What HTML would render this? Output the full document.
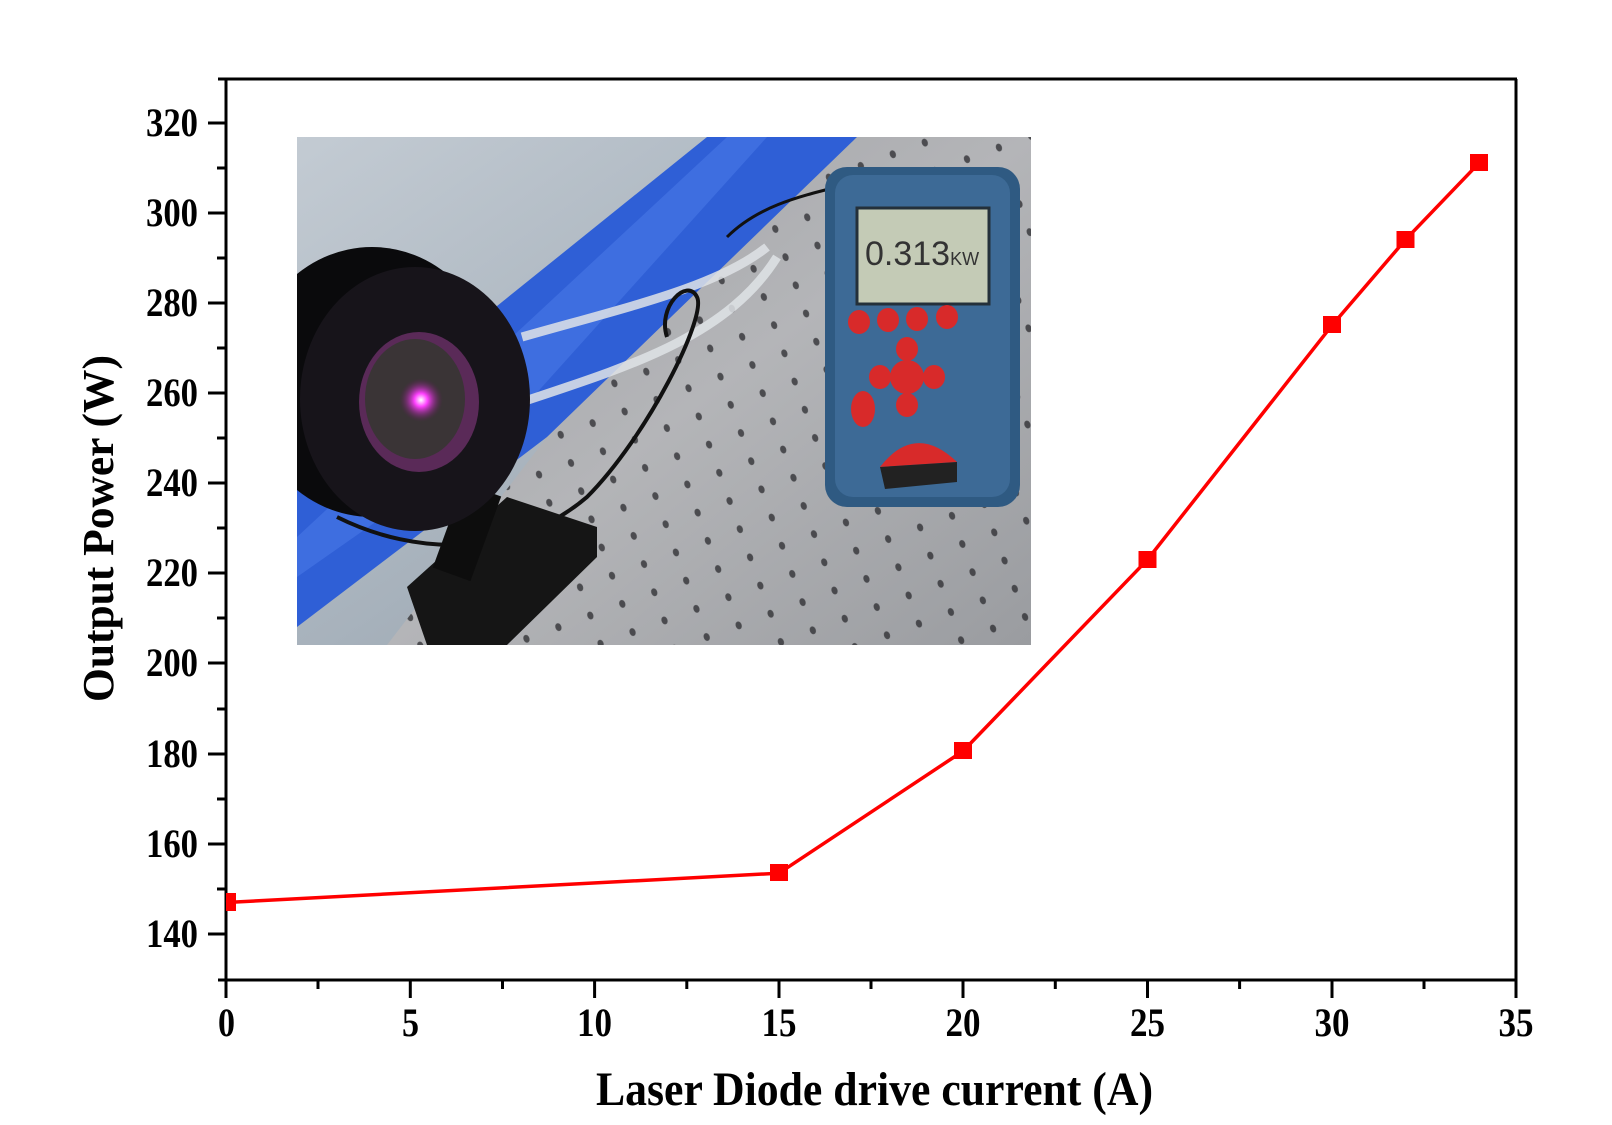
<!DOCTYPE html>
<html><head><meta charset="utf-8"><style>
html,body{margin:0;padding:0;background:#fff;}
svg{display:block;}
text{font-family:"Liberation Serif",serif;font-weight:bold;fill:#000;}
</style></head><body>
<svg width="1612" height="1125" viewBox="0 0 1612 1125" xmlns="http://www.w3.org/2000/svg">
<defs>
<linearGradient id="bg" x1="0" y1="0" x2="1" y2="1">
<stop offset="0" stop-color="#c3cbd3"/><stop offset="1" stop-color="#8d9aa6"/></linearGradient>
<linearGradient id="tbl" x1="0" y1="0" x2="1" y2="1">
<stop offset="0" stop-color="#9fa0a4"/><stop offset="0.5" stop-color="#b4b5b8"/><stop offset="1" stop-color="#9a9ca0"/></linearGradient>
<radialGradient id="spot" cx="0.5" cy="0.5" r="0.5">
<stop offset="0" stop-color="#fff"/><stop offset="0.3" stop-color="#ff40ff"/><stop offset="1" stop-color="#5a1a50" stop-opacity="0"/></radialGradient>
<pattern id="dots" x="0" y="0" width="34" height="30" patternUnits="userSpaceOnUse" patternTransform="rotate(-20)">
<ellipse cx="10" cy="10" rx="3" ry="4" fill="#2a2a2e"/></pattern>
<clipPath id="pc"><rect x="0" y="0" width="734" height="508"/></clipPath>
</defs>

<g transform="translate(297,137)" clip-path="url(#pc)">
<rect width="734" height="508" fill="url(#bg)"/>
<polygon points="560,0 734,0 734,508 90,508 250,300" fill="url(#tbl)"/>
<polygon points="560,0 734,0 734,508 90,508 250,300" fill="url(#dots)" opacity="0.75"/>
<polygon points="410,0 560,0 250,300 0,490 0,330" fill="#2f5fd6"/>
<polygon points="430,0 470,0 200,300 0,440 0,400" fill="#4a78e6" opacity="0.6"/>
<path d="M225,200 C330,170 420,150 470,110" stroke="#dfe3e6" stroke-width="9" fill="none" opacity="0.85"/>
<path d="M225,265 C330,230 430,200 480,120" stroke="#dfe3e6" stroke-width="9" fill="none" opacity="0.85"/>
<path d="M40,380 C120,420 220,420 290,360 C350,300 410,180 400,160 C390,140 360,170 370,200" stroke="#111" stroke-width="4" fill="none"/>
<path d="M430,100 C460,70 500,60 540,50" stroke="#111" stroke-width="3" fill="none"/>
<polygon points="110,450 210,360 300,390 300,420 210,508 130,508" fill="#151515"/>
<rect x="150" y="350" width="40" height="90" fill="#0d0d0d" transform="rotate(20 170 395)"/>
<ellipse cx="75" cy="245" rx="125" ry="135" fill="#0a0a0c"/>
<ellipse cx="118" cy="262" rx="115" ry="132" fill="#17141a"/>
<ellipse cx="122" cy="265" rx="60" ry="70" fill="#5a2a58"/>
<ellipse cx="118" cy="262" rx="50" ry="60" fill="#3a3436"/>
<ellipse cx="124" cy="263" rx="22" ry="22" fill="url(#spot)"/>
<rect x="528" y="30" width="195" height="340" rx="22" fill="#2f5a82"/>
<rect x="538" y="38" width="175" height="322" rx="18" fill="#3d6a96"/>
<rect x="560" y="71" width="132" height="96" fill="#c4cbb6" stroke="#24303a" stroke-width="3"/>
<text x="568" y="128" font-size="34" style="font-family:'Liberation Sans',sans-serif;font-weight:normal;fill:#333">0.313<tspan font-size="18">KW</tspan></text>
<g fill="#d82a2a">
<ellipse cx="562" cy="185" rx="11" ry="12"/><ellipse cx="591" cy="183" rx="11" ry="12"/>
<ellipse cx="620" cy="182" rx="11" ry="12"/><ellipse cx="650" cy="180" rx="11" ry="12"/>
<circle cx="610" cy="240" r="17"/><ellipse cx="610" cy="212" rx="11" ry="12"/><ellipse cx="610" cy="268" rx="11" ry="12"/>
<ellipse cx="583" cy="240" rx="11" ry="12"/><ellipse cx="637" cy="240" rx="11" ry="12"/>
<ellipse cx="566" cy="272" rx="12" ry="18"/>
<path d="M583,330 Q618,285 660,325 Z"/></g>
<path d="M583,330 L660,325 L660,345 L588,352 Z" fill="#222"/>
</g>

<g stroke="#000" stroke-width="3" fill="none">
<line x1="218" y1="79" x2="1517" y2="79"/>
<line x1="1516" y1="79" x2="1516" y2="981"/>
<line x1="218" y1="980" x2="1517" y2="980"/>
<line x1="226" y1="79" x2="226" y2="981"/>
</g>
<g stroke="#000" stroke-width="3">
<line x1="208" y1="934" x2="226" y2="934"/><line x1="208" y1="844" x2="226" y2="844"/>
<line x1="208" y1="754" x2="226" y2="754"/><line x1="208" y1="663" x2="226" y2="663"/>
<line x1="208" y1="573" x2="226" y2="573"/><line x1="208" y1="483" x2="226" y2="483"/>
<line x1="208" y1="393" x2="226" y2="393"/><line x1="208" y1="303" x2="226" y2="303"/>
<line x1="208" y1="213" x2="226" y2="213"/><line x1="208" y1="123" x2="226" y2="123"/>
<line x1="217" y1="889" x2="226" y2="889"/><line x1="217" y1="799" x2="226" y2="799"/>
<line x1="217" y1="709" x2="226" y2="709"/><line x1="217" y1="618" x2="226" y2="618"/>
<line x1="217" y1="528" x2="226" y2="528"/><line x1="217" y1="438" x2="226" y2="438"/>
<line x1="217" y1="348" x2="226" y2="348"/><line x1="217" y1="258" x2="226" y2="258"/>
<line x1="217" y1="168" x2="226" y2="168"/>
<line x1="226" y1="980" x2="226" y2="998"/><line x1="410.3" y1="980" x2="410.3" y2="998"/>
<line x1="594.6" y1="980" x2="594.6" y2="998"/><line x1="779" y1="980" x2="779" y2="998"/>
<line x1="963" y1="980" x2="963" y2="998"/><line x1="1147.5" y1="980" x2="1147.5" y2="998"/>
<line x1="1332" y1="980" x2="1332" y2="998"/><line x1="1516" y1="980" x2="1516" y2="998"/>
<line x1="318" y1="980" x2="318" y2="989"/><line x1="502.5" y1="980" x2="502.5" y2="989"/>
<line x1="686.8" y1="980" x2="686.8" y2="989"/><line x1="871" y1="980" x2="871" y2="989"/>
<line x1="1055.3" y1="980" x2="1055.3" y2="989"/><line x1="1239.6" y1="980" x2="1239.6" y2="989"/>
<line x1="1424" y1="980" x2="1424" y2="989"/>
</g>
<g font-size="40">
<text x="146" y="947" textLength="52" lengthAdjust="spacingAndGlyphs">140</text>
<text x="146" y="857" textLength="52" lengthAdjust="spacingAndGlyphs">160</text>
<text x="146" y="767" textLength="52" lengthAdjust="spacingAndGlyphs">180</text>
<text x="146" y="676" textLength="52" lengthAdjust="spacingAndGlyphs">200</text>
<text x="146" y="586" textLength="52" lengthAdjust="spacingAndGlyphs">220</text>
<text x="146" y="496" textLength="52" lengthAdjust="spacingAndGlyphs">240</text>
<text x="146" y="406" textLength="52" lengthAdjust="spacingAndGlyphs">260</text>
<text x="146" y="316" textLength="52" lengthAdjust="spacingAndGlyphs">280</text>
<text x="146" y="226" textLength="52" lengthAdjust="spacingAndGlyphs">300</text>
<text x="146" y="136" textLength="52" lengthAdjust="spacingAndGlyphs">320</text>
</g>
<g font-size="40">
<text x="218" y="1036" textLength="17" lengthAdjust="spacingAndGlyphs">0</text>
<text x="402" y="1036" textLength="17" lengthAdjust="spacingAndGlyphs">5</text>
<text x="577" y="1036" textLength="35" lengthAdjust="spacingAndGlyphs">10</text>
<text x="761.5" y="1036" textLength="35" lengthAdjust="spacingAndGlyphs">15</text>
<text x="945.5" y="1036" textLength="35" lengthAdjust="spacingAndGlyphs">20</text>
<text x="1130" y="1036" textLength="35" lengthAdjust="spacingAndGlyphs">25</text>
<text x="1314.5" y="1036" textLength="35" lengthAdjust="spacingAndGlyphs">30</text>
<text x="1498.5" y="1036" textLength="35" lengthAdjust="spacingAndGlyphs">35</text>
</g>
<text x="596" y="1105" font-size="48" textLength="557" lengthAdjust="spacingAndGlyphs">Laser Diode drive current (A)</text>
<text transform="translate(113,702) rotate(-90)" font-size="44" textLength="347" lengthAdjust="spacingAndGlyphs">Output Power (W)</text>

<polyline points="226,902.5 779,873.2 963,751.1 1147.5,559.6 1332,325.3 1405.5,239.7 1479,163.1" fill="none" stroke="#ff0000" stroke-width="3.5"/>
<g fill="#ff0000">
<rect x="226" y="893" width="10" height="18"/>
<rect x="770" y="864" width="18" height="17"/>
<rect x="954" y="742" width="18" height="17"/>
<rect x="1138.5" y="551" width="18" height="17"/>
<rect x="1323" y="316" width="18" height="17"/>
<rect x="1396.5" y="231" width="18" height="17"/>
<rect x="1470" y="154" width="18" height="17"/>
</g>
</svg>
</body></html>
